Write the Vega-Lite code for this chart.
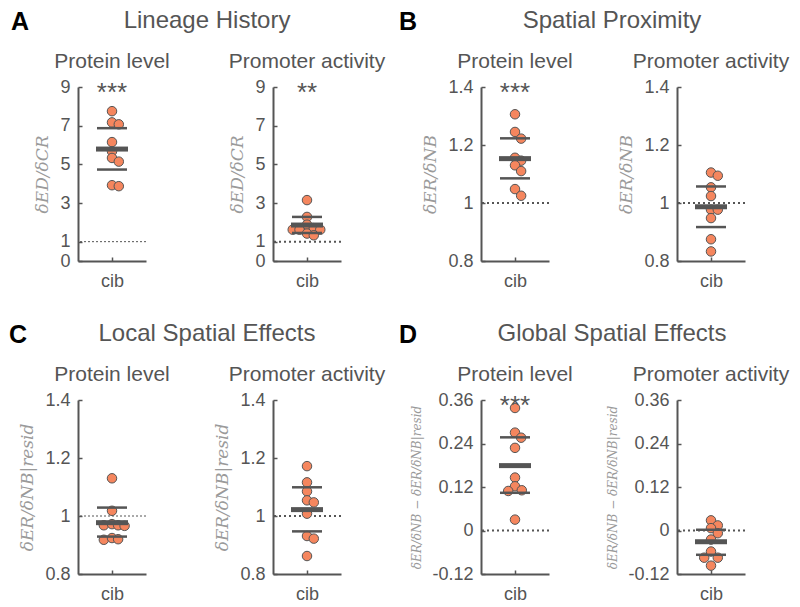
{
"$schema":"https://vega.github.io/schema/vega-lite/v6.json",
"background":"white",
"padding":{"left":8,"top":9,"right":2,"bottom":4},
"datasets":{
"pts":[
{"panel":"Ap","x":1,"y":7.75},{"panel":"Ap","x":1,"y":7.17},{"panel":"Ap","x":1.2,"y":7.07},{"panel":"Ap","x":1,"y":6.15},{"panel":"Ap","x":1,"y":5.67},{"panel":"Ap","x":1,"y":5.33},{"panel":"Ap","x":1.2,"y":5.14},{"panel":"Ap","x":1,"y":3.92},{"panel":"Ap","x":1.2,"y":3.87},
{"panel":"Am","x":1,"y":3.15},{"panel":"Am","x":1,"y":2.28},{"panel":"Am","x":1,"y":1.88},{"panel":"Am","x":0.58,"y":1.62},{"panel":"Am","x":0.78,"y":1.62},{"panel":"Am","x":1.2,"y":1.7},{"panel":"Am","x":1.39,"y":1.62},{"panel":"Am","x":1,"y":1.42},{"panel":"Am","x":1.2,"y":1.33},
{"panel":"Bp","x":1,"y":1.306},{"panel":"Bp","x":1,"y":1.245},{"panel":"Bp","x":1.18,"y":1.222},{"panel":"Bp","x":1,"y":1.156},{"panel":"Bp","x":1.18,"y":1.146},{"panel":"Bp","x":1,"y":1.13},{"panel":"Bp","x":1.18,"y":1.11},{"panel":"Bp","x":1,"y":1.048},{"panel":"Bp","x":1.18,"y":1.025},
{"panel":"Bm","x":1,"y":1.105},{"panel":"Bm","x":1.2,"y":1.094},{"panel":"Bm","x":1,"y":1.054},{"panel":"Bm","x":1,"y":1.024},{"panel":"Bm","x":1,"y":0.977},{"panel":"Bm","x":1.2,"y":0.977},{"panel":"Bm","x":1,"y":0.948},{"panel":"Bm","x":1,"y":0.875},{"panel":"Bm","x":1,"y":0.833},
{"panel":"Cp","x":1,"y":1.13},{"panel":"Cp","x":1,"y":1.018},{"panel":"Cp","x":0.76,"y":0.968},{"panel":"Cp","x":1,"y":0.972},{"panel":"Cp","x":1.18,"y":0.968},{"panel":"Cp","x":1.37,"y":0.966},{"panel":"Cp","x":0.76,"y":0.918},{"panel":"Cp","x":1,"y":0.924},{"panel":"Cp","x":1.18,"y":0.92},
{"panel":"Cm","x":1,"y":1.172},{"panel":"Cm","x":1,"y":1.116},{"panel":"Cm","x":1,"y":1.085},{"panel":"Cm","x":1,"y":1.054},{"panel":"Cm","x":1.2,"y":1.047},{"panel":"Cm","x":1,"y":1.008},{"panel":"Cm","x":1,"y":0.931},{"panel":"Cm","x":1.2,"y":0.922},{"panel":"Cm","x":1,"y":0.862},
{"panel":"Dp","x":1,"y":0.338},{"panel":"Dp","x":1,"y":0.27},{"panel":"Dp","x":1.18,"y":0.256},{"panel":"Dp","x":1,"y":0.228},{"panel":"Dp","x":1,"y":0.146},{"panel":"Dp","x":1,"y":0.122},{"panel":"Dp","x":0.8,"y":0.109},{"panel":"Dp","x":1.2,"y":0.111},{"panel":"Dp","x":1,"y":0.03},
{"panel":"Dm","x":1,"y":0.028},{"panel":"Dm","x":1.2,"y":0.014},{"panel":"Dm","x":1,"y":0.0065},{"panel":"Dm","x":1.2,"y":-0.0075},{"panel":"Dm","x":1,"y":-0.025},{"panel":"Dm","x":1,"y":-0.058},{"panel":"Dm","x":0.8,"y":-0.075},{"panel":"Dm","x":1.2,"y":-0.075},{"panel":"Dm","x":1,"y":-0.097}
],
"bars":[
{"panel":"Ap","kind":"mean","x":1,"y":5.79},{"panel":"Ap","kind":"sem","x":1,"y":6.87},{"panel":"Ap","kind":"sem","x":1,"y":4.73},
{"panel":"Am","kind":"mean","x":1,"y":1.86},{"panel":"Am","kind":"sem","x":1,"y":2.28},{"panel":"Am","kind":"sem","x":1,"y":1.45},
{"panel":"Bp","kind":"mean","x":1,"y":1.153},{"panel":"Bp","kind":"sem","x":1,"y":1.223},{"panel":"Bp","kind":"sem","x":1,"y":1.085},
{"panel":"Bm","kind":"mean","x":1,"y":0.987},{"panel":"Bm","kind":"sem","x":1,"y":1.057},{"panel":"Bm","kind":"sem","x":1,"y":0.917},
{"panel":"Cp","kind":"mean","x":1,"y":0.977},{"panel":"Cp","kind":"sem","x":1,"y":1.029},{"panel":"Cp","kind":"sem","x":1,"y":0.929},
{"panel":"Cm","kind":"mean","x":1,"y":1.022},{"panel":"Cm","kind":"sem","x":1,"y":1.099},{"panel":"Cm","kind":"sem","x":1,"y":0.947},
{"panel":"Dp","kind":"mean","x":1,"y":0.179},{"panel":"Dp","kind":"sem","x":1,"y":0.257},{"panel":"Dp","kind":"sem","x":1,"y":0.104},
{"panel":"Dm","kind":"mean","x":1,"y":-0.031},{"panel":"Dm","kind":"sem","x":1,"y":0.002},{"panel":"Dm","kind":"sem","x":1,"y":-0.067}
],
"refs":[
{"panel":"Ap","y":1},{"panel":"Am","y":1},{"panel":"Bp","y":1},{"panel":"Bm","y":1},{"panel":"Cp","y":1},{"panel":"Cm","y":1},{"panel":"Dp","y":0},{"panel":"Dm","y":0}
],
"stars":[
{"panel":"Ap","label":"***","x":1,"y":9},{"panel":"Am","label":"**","x":1,"y":9},{"panel":"Bp","label":"***","x":1,"y":1.4},{"panel":"Dp","label":"***","x":1,"y":0.36}
]
},
"config":{
"view":{"stroke":null},
"font":"Liberation Sans",
"axis":{"domainColor":"#555","domainWidth":2,"tickColor":"#555","tickWidth":1.5,"tickSize":-4,"labelColor":"#555","labelFontSize":18,"labelPadding":12,"labelFont":"Liberation Sans","grid":false,"titleColor":"#9a9a9a","titleFont":"DejaVu Serif","titleFontStyle":"italic","titleFontWeight":"normal","titleFontSize":17,"titlePadding":8},
"axisX":{"labelPadding":15},
"title":{"color":"#555","fontWeight":"normal","font":"Liberation Sans","fontSize":21,"offset":6},
"tick":{"color":"#555","opacity":1,"orient":"horizontal"},
"circle":{"size":90,"fill":"#F5865E","stroke":"#555","strokeWidth":1,"opacity":1},
"text":{"fontSize":26,"color":"#555","baseline":"middle","dy":6}
},
"spacing":32,
"vconcat":[
{"spacing":12,"hconcat":[
 {"title":{"text":"A","anchor":"start","frame":"bounds","dx":-23,"dy":26,"offset":0,"fontSize":25,"fontWeight":"bold","color":"#000"},
  "hconcat":[{"bounds":"flush","spacing":127,"title":{"text":"Lineage History","anchor":"middle","frame":"group","dx":129,"fontSize":24,"offset":18},
   "hconcat":[
    {"width":68,"height":174,"title":"Protein level",
     "encoding":{"y":{"field":"y","type":"quantitative","scale":{"domain":[0,9],"nice":false,"zero":false},"axis":{"values":[0,1,3,5,7,9],"labelExpr":"''+datum.value","title":"δED/δCR"}}},
     "layer":[
     {"data":{"name":"refs"},"transform":[{"filter":"datum.panel==='Ap'"}],"mark":{"type":"rule","color":"#555","strokeWidth":1,"strokeDash":[2,2]}},
     {"data":{"name":"pts"},"transform":[{"filter":"datum.panel==='Ap'"}],"mark":{"type":"circle"},"encoding":{"x":{"field":"x","type":"quantitative","scale":{"domain":[0,2]},"axis":{"values":[1],"labelExpr":"'cib'","title":null}}}},
     {"data":{"name":"bars"},"transform":[{"filter":"datum.panel==='Ap' && datum.kind==='sem'"}],"mark":{"type":"tick","size":30,"thickness":2.5},"encoding":{"x":{"field":"x","type":"quantitative","scale":{"domain":[0,2]},"axis":{"values":[1],"labelExpr":"'cib'","title":null}}}},
     {"data":{"name":"bars"},"transform":[{"filter":"datum.panel==='Ap' && datum.kind==='mean'"}],"mark":{"type":"tick","size":32,"thickness":5},"encoding":{"x":{"field":"x","type":"quantitative","scale":{"domain":[0,2]},"axis":{"values":[1],"labelExpr":"'cib'","title":null}}}},
     {"data":{"name":"stars"},"transform":[{"filter":"datum.panel==='Ap'"}],"mark":{"type":"text"},"encoding":{"text":{"field":"label"},"x":{"field":"x","type":"quantitative","scale":{"domain":[0,2]},"axis":{"values":[1],"labelExpr":"'cib'","title":null}}}}
    ]},
    {"width":68,"height":174,"title":"Promoter activity",
     "encoding":{"y":{"field":"y","type":"quantitative","scale":{"domain":[0,9],"nice":false,"zero":false},"axis":{"values":[0,1,3,5,7,9],"labelExpr":"''+datum.value","title":"δED/δCR"}}},
     "layer":[
     {"data":{"name":"refs"},"transform":[{"filter":"datum.panel==='Am'"}],"mark":{"type":"rule","color":"#555","strokeWidth":2,"strokeDash":[2,3]}},
     {"data":{"name":"pts"},"transform":[{"filter":"datum.panel==='Am'"}],"mark":{"type":"circle"},"encoding":{"x":{"field":"x","type":"quantitative","scale":{"domain":[0,2]},"axis":{"values":[1],"labelExpr":"'cib'","title":null}}}},
     {"data":{"name":"bars"},"transform":[{"filter":"datum.panel==='Am' && datum.kind==='sem'"}],"mark":{"type":"tick","size":30,"thickness":2.5},"encoding":{"x":{"field":"x","type":"quantitative","scale":{"domain":[0,2]},"axis":{"values":[1],"labelExpr":"'cib'","title":null}}}},
     {"data":{"name":"bars"},"transform":[{"filter":"datum.panel==='Am' && datum.kind==='mean'"}],"mark":{"type":"tick","size":32,"thickness":5},"encoding":{"x":{"field":"x","type":"quantitative","scale":{"domain":[0,2]},"axis":{"values":[1],"labelExpr":"'cib'","title":null}}}},
     {"data":{"name":"stars"},"transform":[{"filter":"datum.panel==='Am'"}],"mark":{"type":"text"},"encoding":{"text":{"field":"label"},"x":{"field":"x","type":"quantitative","scale":{"domain":[0,2]},"axis":{"values":[1],"labelExpr":"'cib'","title":null}}}}
    ]}
   ]}]},
 {"title":{"text":"B","anchor":"start","frame":"bounds","dx":-23,"dy":26,"offset":0,"fontSize":25,"fontWeight":"bold","color":"#000"},
  "hconcat":[{"bounds":"flush","spacing":128,"title":{"text":"Spatial Proximity","anchor":"middle","frame":"group","dx":131,"fontSize":24,"offset":18},
   "hconcat":[
    {"width":68,"height":174,"title":"Protein level",
     "encoding":{"y":{"field":"y","type":"quantitative","scale":{"domain":[0.8,1.4],"nice":false,"zero":false},"axis":{"values":[0.8,1,1.2,1.4],"labelExpr":"''+datum.value","title":"δER/δNB"}}},
     "layer":[
     {"data":{"name":"refs"},"transform":[{"filter":"datum.panel==='Bp'"}],"mark":{"type":"rule","color":"#555","strokeWidth":2,"strokeDash":[2,3]}},
     {"data":{"name":"pts"},"transform":[{"filter":"datum.panel==='Bp'"}],"mark":{"type":"circle"},"encoding":{"x":{"field":"x","type":"quantitative","scale":{"domain":[0,2]},"axis":{"values":[1],"labelExpr":"'cib'","title":null}}}},
     {"data":{"name":"bars"},"transform":[{"filter":"datum.panel==='Bp' && datum.kind==='sem'"}],"mark":{"type":"tick","size":30,"thickness":2.5},"encoding":{"x":{"field":"x","type":"quantitative","scale":{"domain":[0,2]},"axis":{"values":[1],"labelExpr":"'cib'","title":null}}}},
     {"data":{"name":"bars"},"transform":[{"filter":"datum.panel==='Bp' && datum.kind==='mean'"}],"mark":{"type":"tick","size":32,"thickness":5},"encoding":{"x":{"field":"x","type":"quantitative","scale":{"domain":[0,2]},"axis":{"values":[1],"labelExpr":"'cib'","title":null}}}},
     {"data":{"name":"stars"},"transform":[{"filter":"datum.panel==='Bp'"}],"mark":{"type":"text"},"encoding":{"text":{"field":"label"},"x":{"field":"x","type":"quantitative","scale":{"domain":[0,2]},"axis":{"values":[1],"labelExpr":"'cib'","title":null}}}}
    ]},
    {"width":68,"height":174,"title":"Promoter activity",
     "encoding":{"y":{"field":"y","type":"quantitative","scale":{"domain":[0.8,1.4],"nice":false,"zero":false},"axis":{"values":[0.8,1,1.2,1.4],"labelExpr":"''+datum.value","title":"δER/δNB"}}},
     "layer":[
     {"data":{"name":"refs"},"transform":[{"filter":"datum.panel==='Bm'"}],"mark":{"type":"rule","color":"#555","strokeWidth":2,"strokeDash":[2,3]}},
     {"data":{"name":"pts"},"transform":[{"filter":"datum.panel==='Bm'"}],"mark":{"type":"circle"},"encoding":{"x":{"field":"x","type":"quantitative","scale":{"domain":[0,2]},"axis":{"values":[1],"labelExpr":"'cib'","title":null}}}},
     {"data":{"name":"bars"},"transform":[{"filter":"datum.panel==='Bm' && datum.kind==='sem'"}],"mark":{"type":"tick","size":30,"thickness":2.5},"encoding":{"x":{"field":"x","type":"quantitative","scale":{"domain":[0,2]},"axis":{"values":[1],"labelExpr":"'cib'","title":null}}}},
     {"data":{"name":"bars"},"transform":[{"filter":"datum.panel==='Bm' && datum.kind==='mean'"}],"mark":{"type":"tick","size":32,"thickness":5},"encoding":{"x":{"field":"x","type":"quantitative","scale":{"domain":[0,2]},"axis":{"values":[1],"labelExpr":"'cib'","title":null}}}}
    ]}
   ]}]}
]},
{"spacing":12,"hconcat":[
 {"title":{"text":"C","anchor":"start","frame":"bounds","dx":-10,"dy":26,"offset":0,"fontSize":25,"fontWeight":"bold","color":"#000"},
  "hconcat":[{"bounds":"flush","spacing":127,"title":{"text":"Local Spatial Effects","anchor":"middle","frame":"group","dx":129,"fontSize":24,"offset":18},
   "hconcat":[
    {"width":68,"height":174,"title":"Protein level",
     "encoding":{"y":{"field":"y","type":"quantitative","scale":{"domain":[0.8,1.4],"nice":false,"zero":false},"axis":{"values":[0.8,1,1.2,1.4],"labelExpr":"''+datum.value","title":"δER/δNB|resid"}}},
     "layer":[
     {"data":{"name":"refs"},"transform":[{"filter":"datum.panel==='Cp'"}],"mark":{"type":"rule","color":"#555","strokeWidth":1,"strokeDash":[2,2]}},
     {"data":{"name":"pts"},"transform":[{"filter":"datum.panel==='Cp'"}],"mark":{"type":"circle"},"encoding":{"x":{"field":"x","type":"quantitative","scale":{"domain":[0,2]},"axis":{"values":[1],"labelExpr":"'cib'","title":null}}}},
     {"data":{"name":"bars"},"transform":[{"filter":"datum.panel==='Cp' && datum.kind==='sem'"}],"mark":{"type":"tick","size":30,"thickness":2.5},"encoding":{"x":{"field":"x","type":"quantitative","scale":{"domain":[0,2]},"axis":{"values":[1],"labelExpr":"'cib'","title":null}}}},
     {"data":{"name":"bars"},"transform":[{"filter":"datum.panel==='Cp' && datum.kind==='mean'"}],"mark":{"type":"tick","size":32,"thickness":5},"encoding":{"x":{"field":"x","type":"quantitative","scale":{"domain":[0,2]},"axis":{"values":[1],"labelExpr":"'cib'","title":null}}}}
    ]},
    {"width":68,"height":174,"title":"Promoter activity",
     "encoding":{"y":{"field":"y","type":"quantitative","scale":{"domain":[0.8,1.4],"nice":false,"zero":false},"axis":{"values":[0.8,1,1.2,1.4],"labelExpr":"''+datum.value","title":"δER/δNB|resid"}}},
     "layer":[
     {"data":{"name":"refs"},"transform":[{"filter":"datum.panel==='Cm'"}],"mark":{"type":"rule","color":"#555","strokeWidth":2,"strokeDash":[2,3]}},
     {"data":{"name":"pts"},"transform":[{"filter":"datum.panel==='Cm'"}],"mark":{"type":"circle"},"encoding":{"x":{"field":"x","type":"quantitative","scale":{"domain":[0,2]},"axis":{"values":[1],"labelExpr":"'cib'","title":null}}}},
     {"data":{"name":"bars"},"transform":[{"filter":"datum.panel==='Cm' && datum.kind==='sem'"}],"mark":{"type":"tick","size":30,"thickness":2.5},"encoding":{"x":{"field":"x","type":"quantitative","scale":{"domain":[0,2]},"axis":{"values":[1],"labelExpr":"'cib'","title":null}}}},
     {"data":{"name":"bars"},"transform":[{"filter":"datum.panel==='Cm' && datum.kind==='mean'"}],"mark":{"type":"tick","size":32,"thickness":5},"encoding":{"x":{"field":"x","type":"quantitative","scale":{"domain":[0,2]},"axis":{"values":[1],"labelExpr":"'cib'","title":null}}}}
    ]}
   ]}]},
 {"title":{"text":"D","anchor":"start","frame":"bounds","dx":-12,"dy":26,"offset":0,"fontSize":25,"fontWeight":"bold","color":"#000"},
  "hconcat":[{"bounds":"flush","spacing":128,"title":{"text":"Global Spatial Effects","anchor":"middle","frame":"group","dx":131,"fontSize":24,"offset":18},
   "hconcat":[
    {"width":68,"height":174,"title":"Protein level",
     "encoding":{"y":{"field":"y","type":"quantitative","scale":{"domain":[-0.12,0.36],"nice":false,"zero":false},"axis":{"values":[-0.12,0,0.12,0.24,0.36],"labelExpr":"''+datum.value","title":"δER/δNB − δER/δNB|resid","titleFontSize":12}}},
     "layer":[
     {"data":{"name":"refs"},"transform":[{"filter":"datum.panel==='Dp'"}],"mark":{"type":"rule","color":"#555","strokeWidth":2,"strokeDash":[2,3]}},
     {"data":{"name":"pts"},"transform":[{"filter":"datum.panel==='Dp'"}],"mark":{"type":"circle"},"encoding":{"x":{"field":"x","type":"quantitative","scale":{"domain":[0,2]},"axis":{"values":[1],"labelExpr":"'cib'","title":null}}}},
     {"data":{"name":"bars"},"transform":[{"filter":"datum.panel==='Dp' && datum.kind==='sem'"}],"mark":{"type":"tick","size":30,"thickness":2.5},"encoding":{"x":{"field":"x","type":"quantitative","scale":{"domain":[0,2]},"axis":{"values":[1],"labelExpr":"'cib'","title":null}}}},
     {"data":{"name":"bars"},"transform":[{"filter":"datum.panel==='Dp' && datum.kind==='mean'"}],"mark":{"type":"tick","size":32,"thickness":5},"encoding":{"x":{"field":"x","type":"quantitative","scale":{"domain":[0,2]},"axis":{"values":[1],"labelExpr":"'cib'","title":null}}}},
     {"data":{"name":"stars"},"transform":[{"filter":"datum.panel==='Dp'"}],"mark":{"type":"text"},"encoding":{"text":{"field":"label"},"x":{"field":"x","type":"quantitative","scale":{"domain":[0,2]},"axis":{"values":[1],"labelExpr":"'cib'","title":null}}}}
    ]},
    {"width":68,"height":174,"title":"Promoter activity",
     "encoding":{"y":{"field":"y","type":"quantitative","scale":{"domain":[-0.12,0.36],"nice":false,"zero":false},"axis":{"values":[-0.12,0,0.12,0.24,0.36],"labelExpr":"''+datum.value","title":"δER/δNB − δER/δNB|resid","titleFontSize":12}}},
     "layer":[
     {"data":{"name":"refs"},"transform":[{"filter":"datum.panel==='Dm'"}],"mark":{"type":"rule","color":"#555","strokeWidth":2,"strokeDash":[2,3]}},
     {"data":{"name":"pts"},"transform":[{"filter":"datum.panel==='Dm'"}],"mark":{"type":"circle"},"encoding":{"x":{"field":"x","type":"quantitative","scale":{"domain":[0,2]},"axis":{"values":[1],"labelExpr":"'cib'","title":null}}}},
     {"data":{"name":"bars"},"transform":[{"filter":"datum.panel==='Dm' && datum.kind==='sem'"}],"mark":{"type":"tick","size":30,"thickness":2.5},"encoding":{"x":{"field":"x","type":"quantitative","scale":{"domain":[0,2]},"axis":{"values":[1],"labelExpr":"'cib'","title":null}}}},
     {"data":{"name":"bars"},"transform":[{"filter":"datum.panel==='Dm' && datum.kind==='mean'"}],"mark":{"type":"tick","size":32,"thickness":5},"encoding":{"x":{"field":"x","type":"quantitative","scale":{"domain":[0,2]},"axis":{"values":[1],"labelExpr":"'cib'","title":null}}}}
    ]}
   ]}]}
]}
]
}
